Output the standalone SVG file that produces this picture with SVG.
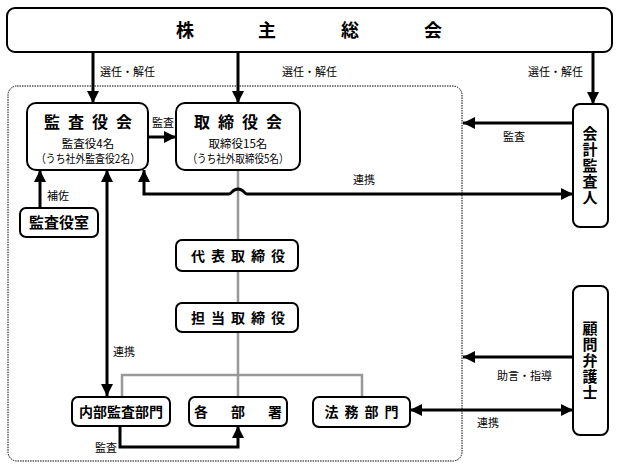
<svg xmlns="http://www.w3.org/2000/svg" width="618" height="468" viewBox="0 0 618 468">
<defs>
<marker id="ah" markerUnits="userSpaceOnUse" markerWidth="12" markerHeight="12" viewBox="0 0 10 10" refX="10" refY="5" orient="auto-start-reverse">
<path d="M0,0 L10,5 L0,10 z" fill="#000"/>
</marker>
<style>
.box{fill:#fff;stroke:#000;stroke-width:2}
.t{font-family:"Noto Sans CJK JP","Noto Sans CJK SC",sans-serif;fill:#000}
.b{font-weight:bold}
.lbl{font-family:"Noto Sans CJK JP","Noto Sans CJK SC",sans-serif;font-size:11px;fill:#000}
.c{fill:none;stroke:#000;stroke-width:3}
.g{fill:none;stroke:#999;stroke-width:2.5}
.m{text-anchor:middle}
.v{writing-mode:vertical-rl;text-anchor:middle;letter-spacing:1px}
</style>
</defs>
<rect x="0" y="0" width="618" height="468" fill="#fff"/>
<rect x="8" y="86" width="454" height="375" rx="9" fill="none" stroke="#000" stroke-width="1" stroke-dasharray="1.5,1"/>

<g id="connectors">
<path class="g" d="M238,170 V240 M238,271 V303 M238,332 V397 M122,397 V375 H362 V397"/>
<path class="c" d="M93,52 V103" marker-end="url(#ah)"/>
<path class="c" d="M238,52 V103" marker-end="url(#ah)"/>
<path class="c" d="M593,52 V104" marker-end="url(#ah)"/>
<path class="c" d="M148,137 H176" marker-end="url(#ah)"/>
<path class="c" d="M573,123 H463" marker-end="url(#ah)"/>
<path class="c" d="M573,194 H247 C244,194 244,189 238,189 C232,189 232,194 229,194 H144 V170" marker-start="url(#ah)" marker-end="url(#ah)"/>
<path class="c" d="M40,208 V170" marker-end="url(#ah)"/>
<path class="c" d="M107,170 V396" marker-start="url(#ah)" marker-end="url(#ah)"/>
<path class="c" d="M120,426 V447 H238 V426" marker-end="url(#ah)"/>
<path class="c" d="M573,357 H463" marker-end="url(#ah)"/>
<path class="c" d="M410,410 H573" marker-start="url(#ah)" marker-end="url(#ah)"/>
<text class="lbl" x="100" y="76">選任・解任</text>
<text class="lbl" x="282" y="76">選任・解任</text>
<text class="lbl" x="528" y="76">選任・解任</text>
<text class="lbl" x="152" y="127" font-size="10.5">監査</text>
<text class="lbl" x="503" y="141">監査</text>
<text class="lbl" x="353" y="184">連携</text>
<text class="lbl" x="47" y="200">補佐</text>
<text class="lbl" x="113" y="356">連携</text>
<text class="lbl" x="95" y="452">監査</text>
<text class="lbl" x="497" y="380">助言・指導</text>
<text class="lbl" x="477" y="427">連携</text>
</g>

<g id="kabunushi">
<rect class="box" x="7" y="8" width="605" height="44" rx="8"/>
<text class="t b m" font-size="18" x="185 267 350 433" y="37">株主総会</text>
</g>

<g id="kansayakukai">
<rect class="box" x="27" y="103" width="121" height="67" rx="9"/>
<text class="t b m" font-size="16" x="52 76 100 124" y="128">監査役会</text>
<text class="t m" font-size="11.5" x="88" y="148">監査役4名</text>
<text class="t m" font-size="11.5" x="88" y="163" textLength="104" lengthAdjust="spacingAndGlyphs">（うち社外監査役2名）</text>
</g>

<g id="torishimariyakukai">
<rect class="box" x="176" y="103" width="124" height="67" rx="9"/>
<text class="t b m" font-size="16" x="202 226 250 274" y="128">取締役会</text>
<text class="t m" font-size="11.5" x="238" y="148">取締役15名</text>
<text class="t m" font-size="11.5" x="238" y="163" textLength="101" lengthAdjust="spacingAndGlyphs">（うち社外取締役5名）</text>
</g>

<g id="kaikeikansanin">
<rect class="box" x="573" y="104" width="35" height="123" rx="7"/>
<text class="t b v" font-size="15" x="590" y="166">会計監査人</text>
</g>

<g id="kansayakushitsu">
<rect class="box" x="20" y="208" width="78" height="29" rx="6"/>
<text class="t b m" font-size="15" x="59" y="228">監査役室</text>
</g>

<g id="daihyo">
<rect class="box" x="176" y="240" width="122" height="31" rx="6"/>
<text class="t b m" font-size="14" x="198 218 238 258 278" y="261">代表取締役</text>
</g>

<g id="tanto">
<rect class="box" x="176" y="303" width="122" height="29" rx="6"/>
<text class="t b m" font-size="14" x="198 218 238 258 278" y="323">担当取締役</text>
</g>

<g id="naibukansa">
<rect class="box" x="72" y="397" width="98" height="29" rx="6"/>
<text class="t b m" font-size="14" x="121" y="417">内部監査部門</text>
</g>

<g id="kakubusho">
<rect class="box" x="189" y="397" width="98" height="29" rx="6"/>
<text class="t b m" font-size="14" x="201 238 275" y="417">各部署</text>
</g>

<g id="homubumon">
<rect class="box" x="313" y="397" width="97" height="30" rx="6"/>
<text class="t b m" font-size="14" x="331.5 351.5 371.5 391.5" y="417">法務部門</text>
</g>

<g id="komonbengoshi">
<rect class="box" x="573" y="286" width="35" height="149" rx="7"/>
<text class="t b v" font-size="15" x="590" y="361">顧問弁護士</text>
</g>
</svg>
